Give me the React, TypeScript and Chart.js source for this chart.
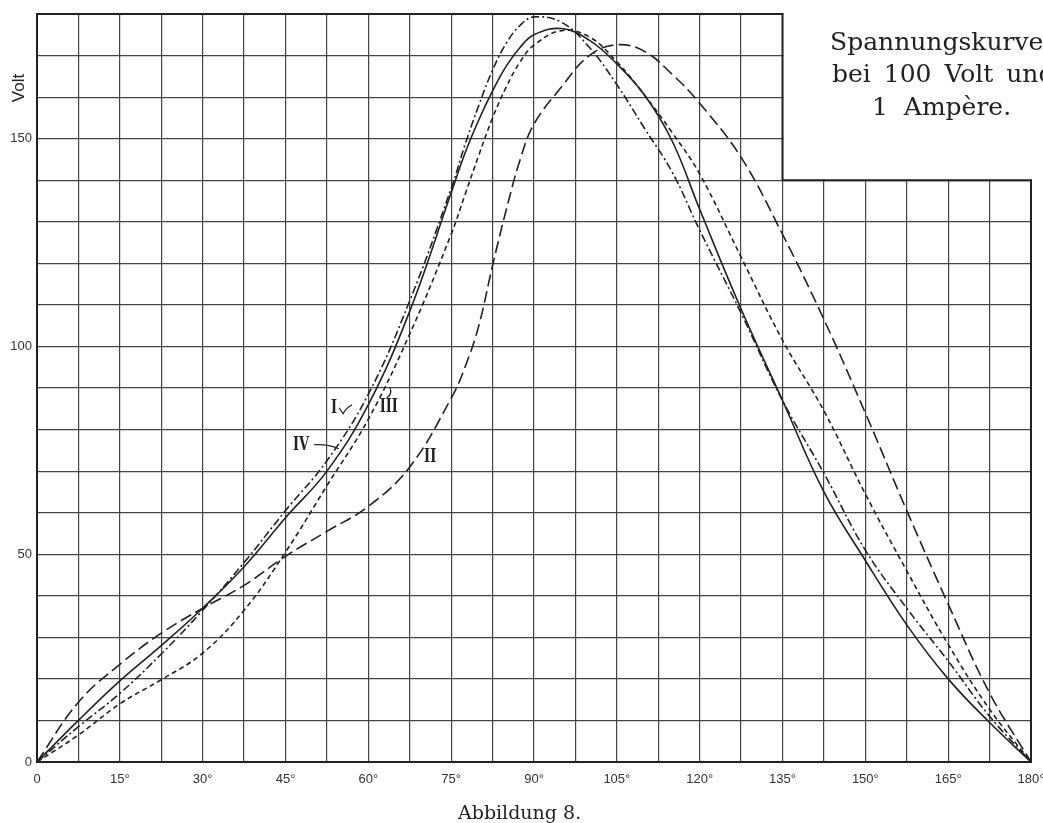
import React, { useEffect, useRef } from 'react';
import { Chart, registerables } from 'chart.js';

Chart.register(...registerables);

// Electrical angle (degrees)
const angles = [0, 7.5, 15, 22.5, 30, 37.5, 45, 52.5, 60, 67.5, 75, 77.5, 80, 82.5, 85, 87.5, 90, 95, 100, 105, 110, 115, 120, 127.5, 135, 142.5, 150, 157.5, 165, 172.5, 180];

// Voltage curves (Volt)
const curveI = [0, 8.5, 16.5, 26, 36.5, 48, 60.5, 72.5, 88.5, 111, 138, 148.5, 158, 166.5, 173, 177.3, 179.3, 178, 172, 163, 152.5, 142, 128, 108, 87, 69.5, 51, 37, 24.3, 11, 0];
const curveII = [0, 14.4, 23.5, 31, 37, 42.5, 49.5, 55.5, 61.5, 71, 87.5, 95, 105, 119.5, 133, 145, 153.5, 162.5, 170, 172.6, 171, 165.5, 158.5, 145.5, 127, 106.5, 84, 60.5, 38, 16.6, 0];
const curveIII = [0, 6.5, 14, 19.8, 26.2, 36.5, 50.5, 66.5, 82.5, 103, 127, 136.5, 146, 155, 162.5, 168.5, 172.5, 176, 174.5, 168.5, 160.5, 151.5, 141.5, 121.5, 101.5, 84.5, 64.5, 46, 28.3, 12.7, 0];
const curveIV = [0, 10, 19.5, 28, 37, 47, 58.8, 70, 86, 108.5, 137, 146.5, 154.5, 161.5, 167.5, 172, 175, 176.5, 173.7, 168, 160.5, 149.5, 133, 109, 87, 65, 48.5, 33, 20, 9.5, 0];

const seriesNames = ['I', 'II', 'III', 'IV'];

// Tick labels
const xTickLabels = ['0', '15°', '30°', '45°', '60°', '75°', '90°', '105°', '120°', '135°', '150°', '165°', '180°'];
const yTickValues = [0, 50, 100, 150];
const yTickLabels = ['0', '50', '100', '150'];

const titleLines = ['Spannungskurven', 'bei 100 Volt und', '1 Ampère.'];
const caption = 'Abbildung 8.';
const yAxisTitle = 'Volt';

const INK = '#222';
const GRID = '#444';

export default function App() {
  const ref = useRef<HTMLCanvasElement | null>(null);

  useEffect(() => {
    const canvas = ref.current;
    if (!canvas) return;

    const mk = (arr: number[]) => angles.map((a, i) => ({ x: a, y: arr[i] }));

    const decor = {
      id: 'decor',
      beforeDatasetsDraw(chart: any) {
        const { ctx, scales } = chart;
        const x = scales.x, y = scales.y;
        const xL = x.getPixelForValue(0);
        const xR = x.getPixelForValue(180);
        const xN = x.getPixelForValue(135);
        const yT = y.getPixelForValue(180);
        const yN = y.getPixelForValue(140);
        const yB = y.getPixelForValue(0);
        ctx.save();
        ctx.fillStyle = '#fff';
        ctx.fillRect(xN + 1, 0, chart.width - xN, yN - 1);
        ctx.strokeStyle = INK;
        ctx.lineWidth = 2;
        ctx.beginPath();
        ctx.moveTo(xL, yT);
        ctx.lineTo(xN, yT);
        ctx.lineTo(xN, yN);
        ctx.lineTo(xR, yN);
        ctx.lineTo(xR, yB);
        ctx.lineTo(xL, yB);
        ctx.closePath();
        ctx.stroke();
        ctx.restore();
      },
      afterDraw(chart: any) {
        const { ctx, scales } = chart;
        const x = scales.x, y = scales.y;
        ctx.save();
        // title
        ctx.fillStyle = INK;
        ctx.font = '25px "DejaVu Serif"';
        ctx.textAlign = 'left';
        ctx.textBaseline = 'alphabetic';
        ctx.fillText(titleLines[0], 830, 50);
        (ctx as any).wordSpacing = '5px';
        ctx.fillText(titleLines[1], 832, 82);
        (ctx as any).wordSpacing = '8px';
        ctx.fillText(titleLines[2], 872, 115);
        (ctx as any).wordSpacing = '0px';
        // caption
        ctx.font = '19px "DejaVu Serif"';
        ctx.fillText(caption, 458, 819);
        // y axis title
        ctx.save();
        ctx.translate(19, 88);
        ctx.rotate(-Math.PI / 2);
        ctx.font = '17px "Liberation Sans"';
        ctx.textAlign = 'center';
        ctx.textBaseline = 'middle';
        ctx.fillText(yAxisTitle, 0, 0);
        ctx.restore();

        // curve labels
        const labelPos: Array<[number, number]> = [[53.8, 85.0], [71.2, 73.4], [63.7, 85.4], [47.8, 76.1]];
        ctx.font = 'bold 18px "DejaVu Serif"';
        ctx.textAlign = 'center';
        ctx.textBaseline = 'middle';
        labelPos.forEach(([d, v], i) => {
          const px = x.getPixelForValue(d);
          const py = y.getPixelForValue(v);
          ctx.save();
          ctx.translate(px, py);
          ctx.scale(0.72, 1);
          ctx.fillText(seriesNames[i], 0, 0);
          ctx.restore();
        });
        // leader hooks
        ctx.strokeStyle = INK;
        ctx.lineWidth = 1.2;
        const pI = [x.getPixelForValue(53.8), y.getPixelForValue(85.0)];
        ctx.beginPath();
        ctx.moveTo(pI[0] + 5, pI[1] - 1);
        ctx.lineTo(pI[0] + 9, pI[1] + 5);
        ctx.quadraticCurveTo(pI[0] + 12, pI[1] - 1, pI[0] + 18, pI[1] - 4);
        ctx.stroke();
        const pIII = [x.getPixelForValue(63.7), y.getPixelForValue(85.4)];
        ctx.beginPath();
        ctx.moveTo(pIII[0] - 2, pIII[1] - 9);
        ctx.quadraticCurveTo(pIII[0] + 4, pIII[1] - 13, pIII[0] + 1, pIII[1] - 20);
        ctx.stroke();
        const pIV = [x.getPixelForValue(47.8), y.getPixelForValue(76.1)];
        ctx.beginPath();
        ctx.moveTo(pIV[0] + 13, pIV[1] - 1);
        ctx.quadraticCurveTo(pIV[0] + 26, pIV[1] - 2, pIV[0] + 38, pIV[1] + 3);
        ctx.stroke();
        ctx.restore();
      },
    };

    const chart = new Chart(canvas, {
      type: 'line',
      data: {
        datasets: [
          { label: seriesNames[0], data: mk(curveI), borderDash: [8, 3, 2, 3] },
          { label: seriesNames[1], data: mk(curveII), borderDash: [12, 5] },
          { label: seriesNames[2], data: mk(curveIII), borderDash: [5, 3.5] },
          { label: seriesNames[3], data: mk(curveIV), borderDash: [] },
        ].map((d) => ({
          ...d,
          borderColor: INK,
          borderWidth: 1.6,
          pointRadius: 0,
          fill: false,
          tension: 0.4,
        })),
      },
      options: {
        responsive: false,
        animation: false,
        devicePixelRatio: 1,
        layout: { padding: { left: 0, right: 12, top: 14, bottom: 0 } },
        plugins: { legend: { display: false }, tooltip: { enabled: false } },
        scales: {
          x: {
            type: 'linear',
            min: 0,
            max: 180,
            afterFit: (s: any) => {
              s.height = 61;
              s.paddingLeft = 0;
              s.paddingRight = 0;
            },
            border: { display: false },
            grid: { color: GRID, lineWidth: 1.2, drawTicks: false },
            ticks: {
              stepSize: 7.5,
              autoSkip: false,
              maxRotation: 0,
              padding: 10,
              color: '#333',
              font: { family: '"Liberation Sans"', size: 13 },
              callback: (v: any) => {
                const n = Number(v);
                const idx = n / 15;
                if (Math.abs(idx - Math.round(idx)) > 1e-6) return '';
                return xTickLabels[Math.round(idx)] ?? '';
              },
            },
          },
          y: {
            min: 0,
            max: 180,
            afterFit: (s: any) => {
              s.width = 37;
              s.paddingTop = 0;
              s.paddingBottom = 0;
            },
            border: { display: false },
            grid: { color: GRID, lineWidth: 1.2, drawTicks: false },
            ticks: {
              stepSize: 10,
              autoSkip: false,
              padding: 5,
              color: '#333',
              font: { family: '"Liberation Sans"', size: 13 },
              callback: (v: any) => {
                const i = yTickValues.indexOf(Number(v));
                return i >= 0 ? yTickLabels[i] : '';
              },
            },
          },
        },
      },
      plugins: [decor],
    } as any);

    return () => chart.destroy();
  }, []);

  return (
    <div style={{ position: 'absolute', left: 0, top: 0, width: 1043, height: 823, background: '#fff' }}>
      <canvas ref={ref} width={1043} height={823} style={{ display: 'block', width: 1043, height: 823 }} />
    </div>
  );
}
